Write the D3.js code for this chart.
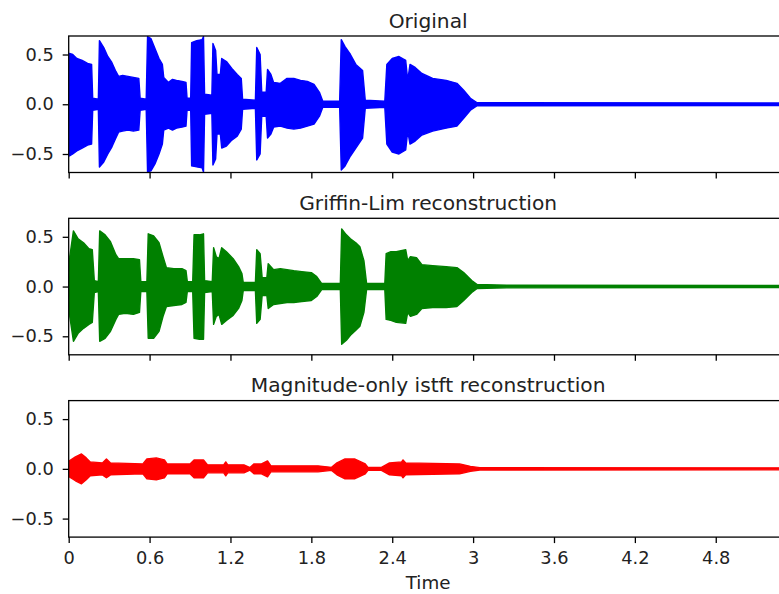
<!DOCTYPE html>
<html>
<head>
<meta charset="utf-8">
<script src="https://cdn.jsdelivr.net/npm/d3@7"></script>
<style>
body { margin: 0; background: #fff; }
svg { display: block; font-family: "DejaVu Sans", sans-serif; }
</style>
</head>
<body>
<svg id="chart" width="779" height="594"></svg>
<script>
// envelope of each waveform (seconds, upper, lower)
var origT  = [0, 0.006, 0.03, 0.06, 0.10, 0.14, 0.17, 0.178, 0.22, 0.228, 0.26, 0.29, 0.32, 0.35, 0.37, 0.40, 0.44, 0.48, 0.52, 0.53, 0.575, 0.585, 0.61, 0.64, 0.67, 0.695, 0.705, 0.74, 0.77, 0.80, 0.84, 0.87, 0.878, 0.905, 0.912, 0.95, 0.99, 1.00, 1.008, 1.062, 1.07, 1.09, 1.10, 1.125, 1.135, 1.17, 1.21, 1.25, 1.28, 1.29, 1.385, 1.395, 1.42, 1.432, 1.465, 1.475, 1.50, 1.52, 1.57, 1.62, 1.67, 1.72, 1.77, 1.82, 1.86, 1.885, 2.01, 2.022, 2.05, 2.09, 2.13, 2.18, 2.20, 2.345, 2.36, 2.40, 2.45, 2.50, 2.515, 2.532, 2.57, 2.62, 2.70, 2.80, 2.88, 2.93, 2.98, 3.03, 5.333];
var origHi = [0, 0.51, 0.50, 0.46, 0.44, 0.41, 0.40, 0.06, 0.05, 0.64, 0.57, 0.48, 0.42, 0.33, 0.28, 0.29, 0.28, 0.27, 0.26, 0.06, 0.05, 0.68, 0.66, 0.56, 0.46, 0.40, 0.27, 0.22, 0.25, 0.24, 0.23, 0.22, 0.06, 0.06, 0.62, 0.64, 0.65, 0.68, 0.10, 0.09, 0.61, 0.54, 0.30, 0.30, 0.46, 0.43, 0.36, 0.30, 0.26, 0.05, 0.04, 0.57, 0.50, 0.12, 0.12, 0.35, 0.30, 0.22, 0.21, 0.26, 0.26, 0.24, 0.23, 0.20, 0.12, 0.03, 0.03, 0.65, 0.58, 0.50, 0.40, 0.34, 0.04, 0.03, 0.40, 0.46, 0.48, 0.44, 0.24, 0.40, 0.37, 0.31, 0.26, 0.24, 0.21, 0.14, 0.06, 0.015, 0.012];
var origLo = [0, -0.52, -0.50, -0.47, -0.44, -0.41, -0.40, -0.06, -0.05, -0.63, -0.58, -0.50, -0.43, -0.34, -0.28, -0.27, -0.26, -0.27, -0.26, -0.06, -0.05, -0.68, -0.67, -0.60, -0.50, -0.40, -0.26, -0.24, -0.26, -0.24, -0.23, -0.22, -0.06, -0.06, -0.62, -0.63, -0.64, -0.68, -0.10, -0.09, -0.61, -0.55, -0.30, -0.30, -0.44, -0.42, -0.36, -0.32, -0.25, -0.05, -0.04, -0.56, -0.50, -0.12, -0.12, -0.34, -0.30, -0.23, -0.22, -0.24, -0.25, -0.24, -0.22, -0.20, -0.12, -0.03, -0.03, -0.66, -0.62, -0.52, -0.44, -0.34, -0.04, -0.03, -0.40, -0.48, -0.50, -0.46, -0.27, -0.40, -0.37, -0.31, -0.27, -0.24, -0.22, -0.14, -0.06, -0.015, -0.012];

var glT  = [0, 0.008, 0.035, 0.07, 0.11, 0.15, 0.175, 0.19, 0.22, 0.23, 0.27, 0.31, 0.35, 0.37, 0.42, 0.48, 0.525, 0.535, 0.58, 0.59, 0.63, 0.67, 0.70, 0.725, 0.78, 0.84, 0.87, 0.88, 0.92, 0.93, 0.97, 1.00, 1.008, 1.065, 1.075, 1.095, 1.115, 1.135, 1.17, 1.22, 1.26, 1.285, 1.295, 1.385, 1.395, 1.42, 1.435, 1.47, 1.48, 1.52, 1.57, 1.62, 1.67, 1.73, 1.80, 1.84, 1.877, 2.015, 2.025, 2.06, 2.09, 2.13, 2.16, 2.19, 2.21, 2.345, 2.355, 2.39, 2.43, 2.50, 2.515, 2.535, 2.58, 2.62, 2.70, 2.80, 2.88, 2.93, 2.99, 3.03, 3.25, 5.333];
var glHi = [0, 0.30, 0.56, 0.48, 0.44, 0.38, 0.37, 0.06, 0.05, 0.56, 0.52, 0.45, 0.32, 0.28, 0.28, 0.28, 0.27, 0.05, 0.05, 0.53, 0.51, 0.44, 0.30, 0.19, 0.18, 0.18, 0.16, 0.05, 0.05, 0.52, 0.52, 0.53, 0.06, 0.05, 0.39, 0.30, 0.28, 0.39, 0.35, 0.28, 0.20, 0.13, 0.04, 0.04, 0.37, 0.33, 0.09, 0.09, 0.23, 0.17, 0.18, 0.17, 0.16, 0.15, 0.14, 0.10, 0.03, 0.03, 0.58, 0.52, 0.48, 0.44, 0.40, 0.26, 0.03, 0.03, 0.33, 0.35, 0.35, 0.37, 0.26, 0.30, 0.29, 0.22, 0.21, 0.20, 0.19, 0.14, 0.06, 0.02, 0.013, 0.01];
var glLo = [0, -0.30, -0.55, -0.47, -0.42, -0.38, -0.36, -0.06, -0.05, -0.55, -0.52, -0.45, -0.33, -0.28, -0.27, -0.28, -0.26, -0.05, -0.05, -0.52, -0.52, -0.45, -0.30, -0.20, -0.19, -0.18, -0.16, -0.05, -0.05, -0.52, -0.53, -0.53, -0.06, -0.05, -0.38, -0.30, -0.28, -0.38, -0.34, -0.29, -0.22, -0.14, -0.04, -0.04, -0.37, -0.33, -0.09, -0.09, -0.22, -0.18, -0.17, -0.16, -0.16, -0.15, -0.14, -0.10, -0.03, -0.03, -0.58, -0.54, -0.49, -0.44, -0.40, -0.26, -0.03, -0.03, -0.33, -0.34, -0.36, -0.37, -0.26, -0.30, -0.28, -0.22, -0.21, -0.21, -0.20, -0.14, -0.06, -0.02, -0.013, -0.01];

var magT  = [0, 0.005, 0.05, 0.095, 0.13, 0.16, 0.25, 0.28, 0.31, 0.55, 0.58, 0.65, 0.71, 0.73, 0.90, 0.93, 1.00, 1.03, 1.15, 1.165, 1.18, 1.30, 1.345, 1.375, 1.43, 1.475, 1.50, 1.85, 1.95, 1.99, 2.05, 2.12, 2.20, 2.22, 2.32, 2.38, 2.47, 2.48, 2.50, 2.70, 2.90, 2.98, 3.05, 5.333];
var magHi = [0, 0.08, 0.12, 0.15, 0.11, 0.07, 0.06, 0.10, 0.06, 0.05, 0.10, 0.11, 0.09, 0.05, 0.05, 0.09, 0.09, 0.04, 0.04, 0.07, 0.04, 0.04, 0.013, 0.05, 0.05, 0.08, 0.03, 0.03, 0.015, 0.06, 0.10, 0.10, 0.05, 0.015, 0.015, 0.06, 0.07, 0.09, 0.06, 0.055, 0.05, 0.025, 0.012, 0.01];
var magLo = [0, -0.08, -0.12, -0.15, -0.11, -0.07, -0.06, -0.09, -0.06, -0.05, -0.10, -0.11, -0.09, -0.05, -0.05, -0.09, -0.09, -0.04, -0.04, -0.07, -0.04, -0.04, -0.013, -0.05, -0.05, -0.08, -0.03, -0.03, -0.015, -0.06, -0.10, -0.10, -0.05, -0.015, -0.015, -0.06, -0.07, -0.09, -0.06, -0.055, -0.05, -0.025, -0.012, -0.01];

var titles = ['Original', 'Griffin-Lim reconstruction', 'Magnitude-only istft reconstruction'];
var colors = ['#0000ff', '#008000', '#ff0000'];
var xTicks = [0, 0.6, 1.2, 1.8, 2.4, 3, 3.6, 4.2, 4.8];
var yTicks = [-0.5, 0, 0.5];
var duration = 5.333;
var yLimit = 0.686;

var panels = [
  {title: titles[0], color: colors[0], t: origT, hi: origHi, lo: origLo},
  {title: titles[1], color: colors[1], t: glT, hi: glHi, lo: glLo},
  {title: titles[2], color: colors[2], t: magT, hi: magHi, lo: magLo}
];

var left = 68.7, right = 787.6;
var firstTop = 36, step = 182.3, panelHeight = 136.5;

var svg = d3.select('#chart');

var x = d3.scaleLinear().domain([0, duration]).range([left, right]);

panels.forEach(function(p, i) {
  var top = firstTop + i * step;
  var y = d3.scaleLinear().domain([-yLimit, yLimit]).range([top + panelHeight, top]);
  var g = svg.append('g');

  var clipId = 'clip' + i;
  g.append('clipPath').attr('id', clipId)
    .append('rect')
    .attr('x', left).attr('y', top)
    .attr('width', right - left).attr('height', panelHeight);

  var env = p.t.map(function(t, k) { return {t: t, hi: p.hi[k], lo: p.lo[k]}; });

  var area = d3.area()
    .x(function(d) { return x(d.t); })
    .y0(function(d) { return y(d.lo); })
    .y1(function(d) { return y(d.hi); });

  g.append('path')
    .datum(env)
    .attr('clip-path', 'url(#' + clipId + ')')
    .attr('d', area)
    .attr('fill', p.color)
    .attr('stroke', p.color)
    .attr('stroke-width', 1.4)
    .attr('stroke-linejoin', 'round');

  var xAxis = d3.axisBottom(x)
    .tickValues(xTicks)
    .tickSize(6)
    .tickPadding(8)
    .tickFormat(i === 2 ? d3.format('~g') : '');

  var yAxis = d3.axisLeft(y)
    .tickValues(yTicks)
    .tickSize(6)
    .tickPadding(9)
    .tickFormat(d3.format('.1f'));

  var gx = g.append('g')
    .attr('transform', 'translate(0,' + (top + panelHeight) + ')')
    .call(xAxis);
  var gy = g.append('g')
    .attr('transform', 'translate(' + left + ',0)')
    .call(yAxis);

  [gx, gy].forEach(function(a) {
    a.select('.domain').remove();
    a.selectAll('.tick line').attr('stroke', '#000').attr('stroke-width', 1.3);
    a.selectAll('.tick text')
      .attr('fill', '#222')
      .style('font-size', '17.8px')
      .style('font-family', '"DejaVu Sans", sans-serif');
  });

  // axes frame (right spine falls outside the picture)
  g.append('rect')
    .attr('x', left).attr('y', top)
    .attr('width', right - left).attr('height', panelHeight)
    .attr('fill', 'none')
    .attr('stroke', '#000')
    .attr('stroke-width', 1.3);

  g.append('text')
    .attr('x', (left + right) / 2)
    .attr('y', top - 8.5)
    .attr('text-anchor', 'middle')
    .attr('fill', '#222')
    .style('font-size', '20.2px')
    .text(p.title);
});

svg.append('text')
  .attr('x', (left + right) / 2)
  .attr('y', 589.3)
  .attr('text-anchor', 'middle')
  .attr('fill', '#222')
  .style('font-size', '18.3px')
  .text('Time');
</script>
</body>
</html>
